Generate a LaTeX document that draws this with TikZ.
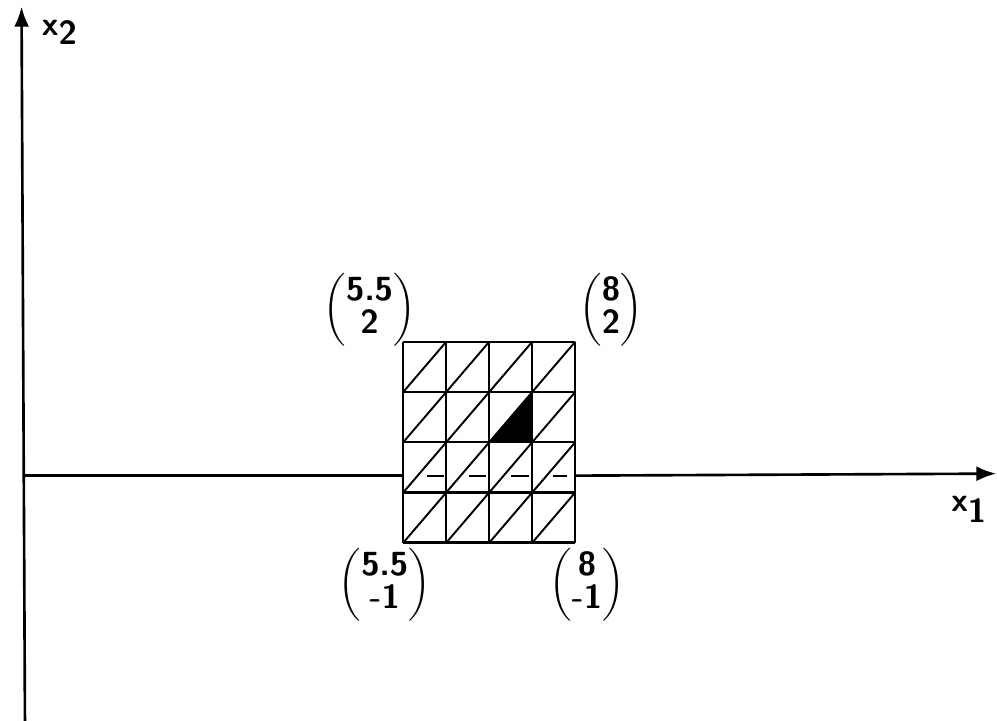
\documentclass[tikz,border=0pt]{standalone}
\usepackage{amsmath}
\usepackage{tikz}
\usetikzlibrary{arrows.meta}

\begin{document}
\begin{tikzpicture}[x=1.376cm, y=1.34cm,
    axis/.style={line width=1.5pt, -{Latex[length=4mm, width=3mm]}},
    cell/.style={line width=1.3pt},
    diag/.style={line width=1.1pt},
    lbl/.style={font=\fontsize{19}{21}\selectfont\sffamily\bfseries, inner sep=0pt}]
    % Grid box: x1 from 5.5 to 8 in 4 steps, x2 from -1 to 2 in 4 steps
    \def\xa{5.5}  \def\xb{8}
    \def\ya{-1}   \def\yb{2}
    \def\dx{0.625}
    \def\dy{0.75}
    \newcommand{\vecl}[2]{$\left(\vcenter{\hbox{\begin{tabular}{@{}c@{}}#1\\[-2pt]#2\end{tabular}}}\right)$}

    \useasboundingbox (-0.363,-3.657) rectangle (14.13,7.10);

    % Axes
    \coordinate (O) at (0,0);
    \coordinate (ybot) at (0,-3.7);
    \coordinate (ytop) at (-0.05,7.0);
    \coordinate (xleft) at (\xa,0);
    \coordinate (xright) at (\xb,0);
    \coordinate (xend) at (14.12,0.03);
    \draw[axis] (ybot) -- (ytop);
    \draw[line width=1.5pt] (O) -- (xleft);
    \draw[axis] (xright) -- (xend);

    % Triangulated grid
    \foreach \i in {0,...,4}{
        \draw[cell] ({\xa+\i*\dx},\ya) -- ({\xa+\i*\dx},\yb);
        \draw[cell] (\xa,{\ya+\i*\dy}) -- (\xb,{\ya+\i*\dy});
    }
    \foreach \i in {0,...,3}{
        \foreach \j in {0,...,3}{
            \draw[diag] ({\xa+\i*\dx},{\ya+\j*\dy}) -- ({\xa+(\i+1)*\dx},{\ya+(\j+1)*\dy});
        }
    }

    % Marked triangle
    \fill ({\xa+2*\dx},{\ya+2*\dy}) -- ({\xa+3*\dx},{\ya+2*\dy}) -- ({\xa+3*\dx},{\ya+3*\dy}) -- cycle;

    % x1 axis hidden inside the grid
    \draw[line width=1.3pt, dash pattern=on 10pt off 14pt] (5.84,0) -- (7.88,0);

    % Corner labels
    \node[lbl] (lblTL) at (5.01,2.48) {\vecl{5.5}{2}};
    \node[lbl] (lblTR) at (8.52,2.48) {\vecl{8}{2}};
    \node[lbl] (lblBL) at (5.23,-1.63) {\vecl{5.5}{-1}};
    \node[lbl] (lblBR) at (8.17,-1.63) {\vecl{8}{-1}};

    % Axis names
    \node[lbl] (lblxtwo) at (0.5,6.62) {x\raisebox{-5pt}{2}};
    \node[lbl] (lblxone) at (13.72,-0.5) {x\raisebox{-6pt}{1}};
\end{tikzpicture}
\end{document}
